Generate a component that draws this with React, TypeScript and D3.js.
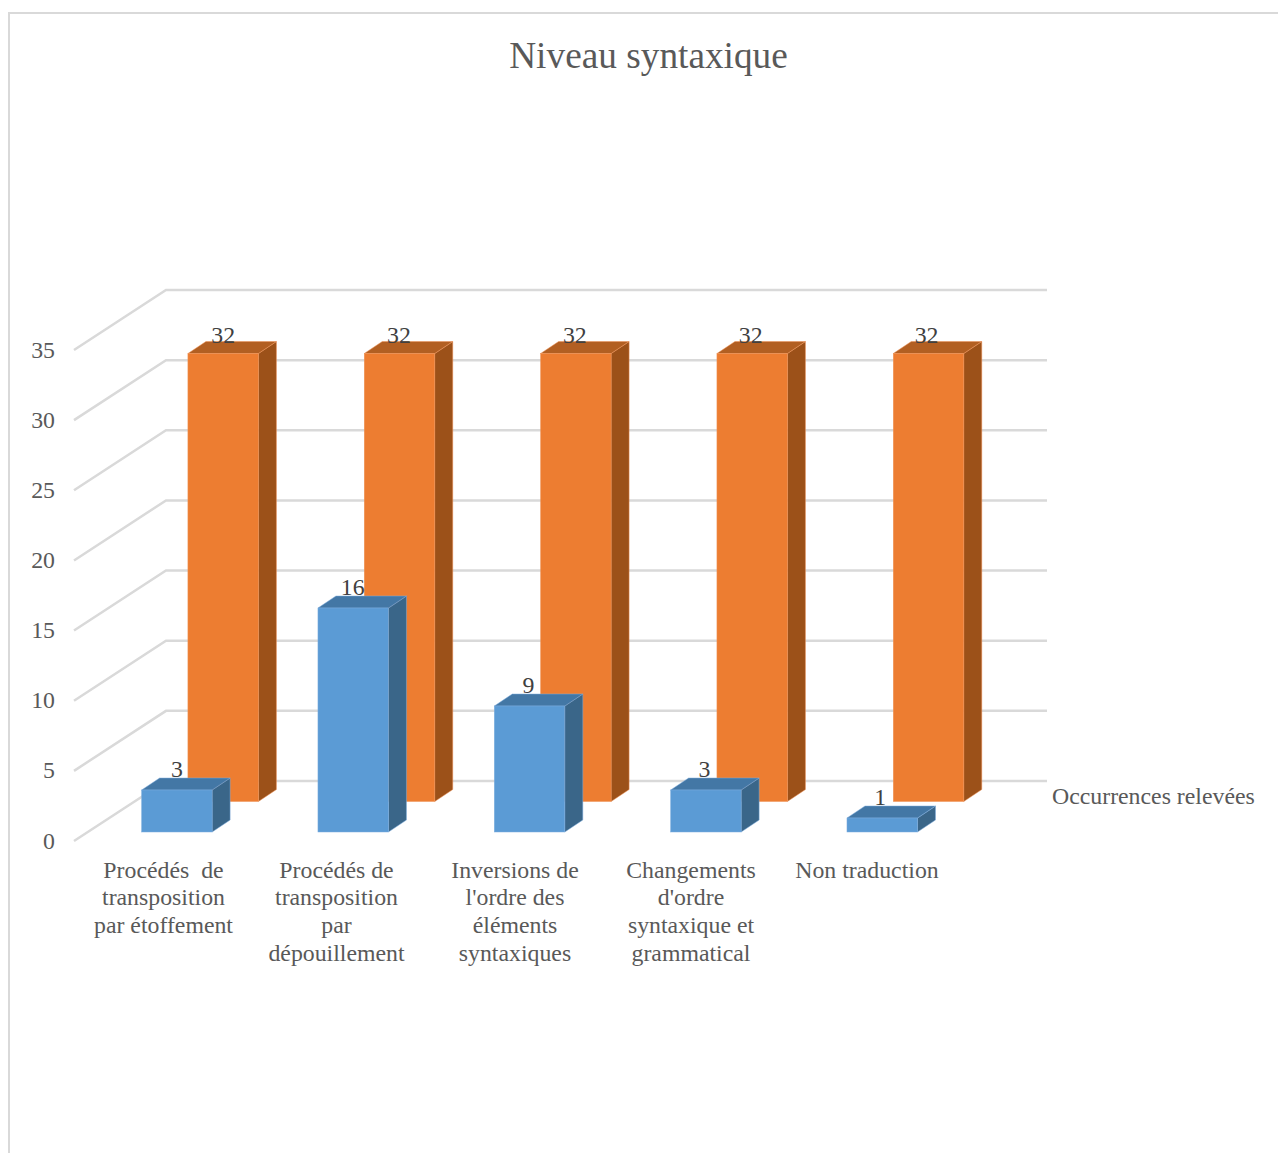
import React from "react";
import * as d3 from "d3";

const categories = ["Procédés  de|transposition|par étoffement", "Procédés de|transposition|par|dépouillement", "Inversions de|l'ordre des|éléments|syntaxiques", "Changements|d'ordre|syntaxique et|grammatical", "Non traduction"];
const labelCenters = [163.5, 336.5, 515, 691, 867];
const occurrences = [3, 16, 9, 3, 1];
const totals = [32, 32, 32, 32, 32];
const ticks = [0, 5, 10, 15, 20, 25, 30, 35];
const title = "Niveau syntaxique";
const seriesName = "Occurrences relevées";
const FONT = "'Liberation Serif', serif";
const TEXT = "#595959";

const x = d3.scaleBand<number>().domain(d3.range(5)).range([112.3, 994]).paddingInner(0).paddingOuter(0);
const barW = 70.5;
const depthX = 18, depthY = 12;
const blueBase = 832, orangeBase = 801.5;
const scale = d3.scaleLinear().domain([0, 35]).range([0, 491]);
const barScale = d3.scaleLinear().domain([0, 35]).range([0, 490]);
const backY = (v: number) => 781 - scale(v);
const frontY = (v: number) => 841 - scale(v);
const blueX = (i: number) => (x(i) as number) + x.bandwidth() / 2 - barW / 2 - 23.6;
const orangeX = (i: number) => blueX(i) + 46.3;

function Bar({ left, base, value, front, top, side, halo }: any) {
  const h = barScale(value);
  const t = base - h;
  const r = left + barW;
  const poly = (pts: number[][]) => { const p = d3.path(); pts.forEach((q, k) => (k ? p.lineTo(q[0], q[1]) : p.moveTo(q[0], q[1]))); p.closePath(); return p.toString(); };
  return (
    <g stroke={halo} strokeWidth={0.5}>
      <path d={poly([[r, t], [r + depthX, t - depthY], [r + depthX, base - depthY], [r, base]])} fill={side} />
      <path d={poly([[left, t], [left + depthX, t - depthY], [r + depthX, t - depthY], [r, t]])} fill={top} />
      <rect x={left} y={t} width={barW} height={h} fill={front} />
    </g>
  );
}

export default function App() {
  return (
    <svg width={1278} height={1153} style={{ position: "absolute", left: 0, top: 0, background: "#fff" }} fontFamily={FONT}>
      <path d="M9 1153V13H1278" fill="none" stroke="#d9d9d9" strokeWidth={2} />
      <text x={648.5} y={68} textAnchor="middle" fontSize={37.3} fill={TEXT}>{title}</text>
      <g stroke="#d9d9d9" strokeWidth={2.5} fill="none">
        {ticks.map((v) => (
          <path key={v} d={`M74 ${frontY(v)}L166 ${backY(v)}H1047`} />
        ))}
      </g>
      {ticks.map((v) => (
        <text key={v} x={55} y={frontY(v) + 7.5} textAnchor="end" fontSize={23.8} fill={TEXT}>{v}</text>
      ))}
      {totals.map((v, i) => (
        <Bar key={i} left={orangeX(i)} base={orangeBase} value={v} front="#ed7d31" top="#b25f22" side="#9c5119" halo="#ee9358" />
      ))}
      {occurrences.map((v, i) => (
        <Bar key={i} left={blueX(i)} base={blueBase} value={v} front="#5b9bd5" top="#4377a5" side="#3a6689" halo="#7cadde" />
      ))}
      {totals.map((v, i) => (
        <text key={i} x={orangeX(i) + barW / 2 - 0.5 * i} y={orangeBase - barScale(v) - 11} textAnchor="middle" fontSize={23.8} fill="#404040">{v}</text>
      ))}
      {occurrences.map((v, i) => (
        <text key={i} x={blueX(i) + barW / 2 - 0.5 * i} y={blueBase - barScale(v) - 13} textAnchor="middle" fontSize={23.8} fill="#404040">{v}</text>
      ))}
      {categories.map((c, i) => (
        <text key={i} textAnchor="middle" fontSize={23.8} fill={TEXT} xmlSpace="preserve" style={{ whiteSpace: "pre" }}>
          {c.split("|").map((line, k) => (
            <tspan key={k} x={labelCenters[i]} y={877.5 + k * 27.7}>{line}</tspan>
          ))}
        </text>
      ))}
      <text x={1052} y={803.5} fontSize={23.8} fill={TEXT}>{seriesName}</text>
    </svg>
  );
}
